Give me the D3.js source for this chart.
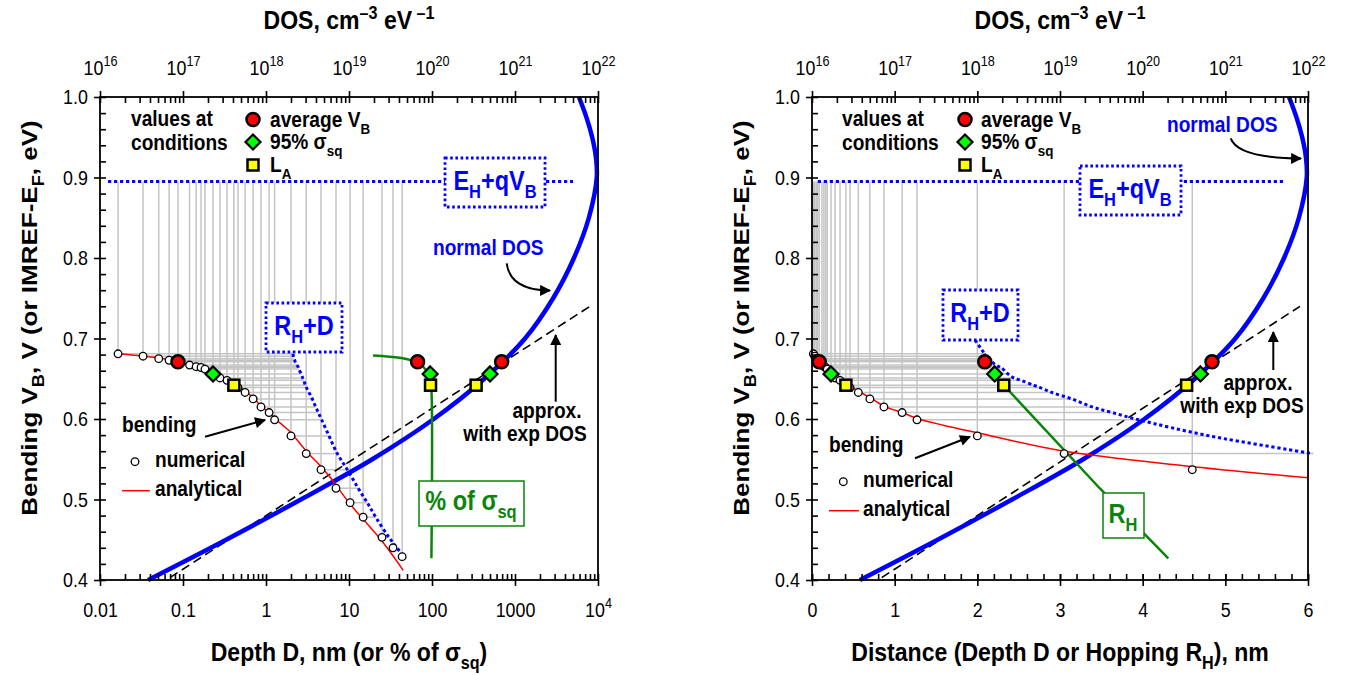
<!DOCTYPE html>
<html><head><meta charset="utf-8">
<script src="https://cdn.jsdelivr.net/npm/d3@7"></script>
<style>body{margin:0;background:#fff}svg{display:block}</style>
</head><body>
<svg id="c" width="1353" height="675"></svg>
<script>
// ---------------- DATA ----------------
// numerical band bending: depth D (nm) and V_B (V)
const numD = [0.0165,0.033,0.051,0.068,0.087,0.12,0.144,0.165,0.184,0.23,0.279,0.339,0.41,0.46,0.56,0.70,0.87,1.09,1.27,2.0,3.05,4.6,6.97,10.3,14.8,25,33.9,43.7];
const numV = [0.681,0.678,0.675,0.673,0.671,0.667,0.665,0.664,0.662,0.656,0.651,0.648,0.642,0.639,0.633,0.625,0.615,0.608,0.599,0.579,0.557,0.537,0.514,0.496,0.478,0.453,0.440,0.429];
// R_H + D (nm) at each numerical point, as read on each panel
const rhdLeft  = [2.13,2.13,2.17,2.22,2.25,2.36,2.43,2.45,2.48,2.66,2.77,2.85,2.98,3.07,3.30,3.61,3.97,4.27,4.69,5.74,7.23,9.55,12.9,16.6,21.0,30.3,37.8,46.0];
const rhdRight = [2.08,2.10,2.13,2.16,2.18,2.22,2.26,2.28,2.31,2.37,2.44,2.53,2.68,2.76,2.90,3.14,3.39,3.63,3.95,4.81,6.06];
// analytical bending
const anaD = [0.0165,0.05,0.087,0.23,0.44,0.57,0.71,0.89,1.09,1.29,1.6,2.0,3.0,4.5,6.0,10,26,45];
const anaV = [0.681,0.676,0.671,0.657,0.642,0.634,0.626,0.615,0.608,0.600,0.592,0.583,0.561,0.542,0.527,0.496,0.446,0.412];
// normal DOS, cm^-3 eV^-1, vs energy (eV)
const dosN = [3.8e16,3.31e17,2.63e18,1.91e19,1.05e20,4.27e20,1.32e21,2.88e21,5.13e21,7.76e21,9.66e21,9.44e21,8.51e21,7.24e21,5.89e21];
const dosV = [0.400,0.450,0.500,0.550,0.600,0.650,0.700,0.750,0.800,0.850,0.900,0.925,0.950,0.975,1.000];
// exponential DOS approximation
const expN = [6.97e16, 8.0e21];
const expV = [0.403, 0.740];
// values at conditions: average V_B, 95% sigma_sq, L_A
const condD   = [0.087, 0.23, 0.41];
const condV   = [0.671, 0.656, 0.642];
const condPct = [67, 95, 96];
const condDOS = [6.9e20, 5.0e20, 3.4e20];
const condRH  = [2.09, 2.21, 2.32];
// % of sigma_sq curve (left)
const sigPct = [19.5, 41, 59, 78, 94.6, 98.4, 98.4];
const sigV   = [0.679, 0.676, 0.672, 0.665, 0.652, 0.636, 0.427];
// hopping distance R_H line (right)
const rhR = [2.32, 3.48, 4.31];
const rhV = [0.642, 0.514, 0.427];
// E_H + qV_B level
const ehLevel = 0.895;
const ehSpanLeft = [0.0125, 5000];
const ehSpanRight = [0.07, 5.7];
// ticks
const xTicksLeft = [0.01,0.1,1,10,100,1000,10000];
const xTickLabelsLeft = ["0.01","0.1","1","10","100","1000","10^4"];
const xTicksRight = [0,1,2,3,4,5,6];
const dosTickExps = [16,17,18,19,20,21,22];
const yTicks = [0.4,0.5,0.6,0.7,0.8,0.9,1.0];

// ---------------- SETUP ----------------
const FONT = '"Liberation Sans", Arial, Helvetica, sans-serif';
const SX = 0.87;
const svg = d3.select("#c");
const defs = svg.append("defs");
defs.append("marker").attr("id","ah").attr("viewBox","0 0 10 10").attr("refX",9).attr("refY",5)
  .attr("markerWidth",13).attr("markerHeight",11).attr("markerUnits","userSpaceOnUse").attr("orient","auto")
  .append("path").attr("d","M0,0L10,5L0,10Z").attr("fill","#000");

const yS = d3.scaleLinear().domain([0.4,1.0]).range([580,97]);
const BLUE="#0000ff", GREEN="#0b840b", RED="#ff0000", GRAY="#c4c4c4";

function rich(g,x,y,parts,o){
  const fs=o.size;
  const tr = o.rotate ? `translate(${x},${y}) rotate(${o.rotate}) scale(1,${SX})` : `translate(${x},${y}) scale(${SX},1)`;
  const t=g.append("text").attr("transform",tr).attr("font-size",fs).attr("font-family",FONT)
    .attr("font-weight",o.bold?"bold":"normal").attr("fill",o.fill||"#000")
    .attr("text-anchor",o.anchor||"start").style("white-space","pre");
  let shift=0;
  parts.forEach(p=>{
    const s = typeof p==="string"?{t:p}:p;
    let target=0,size=fs;
    if(s.sub){target=fs*0.3;size=fs*0.7;}
    if(s.sup){target=-fs*0.36;size=fs*0.7;}
    t.append("tspan").attr("dy",target-shift).attr("font-size",size).text(s.t);
    shift=target;
  });
  return t;
}
function markers(g,xs,ys){
  const [cx0,cy0]=[xs[0],ys[0]];
  g.append("circle").attr("cx",cx0).attr("cy",cy0).attr("r",6.5).attr("fill",RED).attr("stroke","#000").attr("stroke-width",2.5);
  const [cx1,cy1]=[xs[1],ys[1]], h=7.5;
  g.append("path").attr("d",`M${cx1},${cy1-h}L${cx1+h},${cy1}L${cx1},${cy1+h}L${cx1-h},${cy1}Z`).attr("fill","#00ff00").attr("stroke","#000").attr("stroke-width",2.2);
  const [cx2,cy2]=[xs[2],ys[2]], s=5.5;
  g.append("rect").attr("x",cx2-s).attr("y",cy2-s).attr("width",2*s).attr("height",2*s).attr("fill","#ffff00").attr("stroke","#000").attr("stroke-width",2.5);
}
function box(g,x0,y0,x1,y1,color,dotted){
  const r=g.append("rect").attr("x",x0).attr("y",y0).attr("width",x1-x0).attr("height",y1-y0)
    .attr("fill","#fff").attr("stroke",color).attr("stroke-width",dotted?2.8:1.5);
  if(dotted) r.attr("stroke-dasharray","2.6,2.6");
}
function arrow(g,d){
  g.append("path").attr("d",d).attr("fill","none").attr("stroke","#000").attr("stroke-width",2).attr("marker-end","url(#ah)");
}
const lineGen=(xf,yf)=>d3.line().x(xf).y(yf).curve(d3.curveCatmullRom.alpha(0.5));

function styleAxis(g,size){
  g.select(".domain").remove();
  g.selectAll("line").attr("stroke","#000").attr("stroke-width",1.6);
  g.selectAll("text").attr("font-size",size).attr("font-family",FONT).attr("fill","#000").attr("transform",`scale(${SX},1)`);
}

function drawPanel(p){
  const g=svg.append("g");
  const xB=p.xB, xT=p.xT;
  const pts=numD.map((d,i)=>({d,v:numV[i],r:p.rhd[i]})).filter(o=>o.d<=p.dMax);

  // construction grid
  g.append("g").selectAll("line").data(pts).join("line")
    .attr("x1",o=>xB(o.d)).attr("x2",o=>xB(o.d)).attr("y1",o=>yS(o.v)).attr("y2",yS(ehLevel))
    .attr("stroke",GRAY).attr("stroke-width",1.5);
  g.append("g").selectAll("line").data(pts.filter(o=>o.r!=null)).join("line")
    .attr("x1",o=>xB(o.d)).attr("x2",o=>xB(o.r)).attr("y1",o=>yS(o.v)).attr("y2",o=>yS(o.v))
    .attr("stroke",GRAY).attr("stroke-width",1.5);

  // E_H + qV_B level
  g.append("line").attr("x1",xB(p.ehSpan[0])).attr("x2",xB(p.ehSpan[1])).attr("y1",yS(ehLevel)).attr("y2",yS(ehLevel))
    .attr("stroke",BLUE).attr("stroke-width",3).attr("stroke-dasharray","3.2,2.8");

  // exp DOS approximation
  g.append("path").datum(expN.map((n,i)=>({n,v:expV[i]})))
    .attr("d",d3.line().x(o=>xT(o.n)).y(o=>yS(o.v))).attr("fill","none")
    .attr("stroke","#000").attr("stroke-width",1.6).attr("stroke-dasharray","9,5");
  // normal DOS
  g.append("path").datum(dosN.map((n,i)=>({n,v:dosV[i]})))
    .attr("d",lineGen(o=>xT(o.n),o=>yS(o.v))).attr("fill","none")
    .attr("stroke",BLUE).attr("stroke-width",4.5);
  // analytical bending
  g.append("path").datum(anaD.map((d,i)=>({d,v:anaV[i]})).filter(o=>o.d<=p.dMax))
    .attr("d",lineGen(o=>xB(o.d),o=>yS(o.v))).attr("fill","none")
    .attr("stroke",RED).attr("stroke-width",1.5);
  // R_H + D
  g.append("path").datum(pts.filter(o=>o.r!=null))
    .attr("d",lineGen(o=>xB(o.r),o=>yS(o.v))).attr("fill","none")
    .attr("stroke",BLUE).attr("stroke-width",3).attr("stroke-dasharray","3.2,2.8");

  p.extra(g,xB,xT);

  // numerical points
  g.append("g").selectAll("circle").data(pts).join("circle")
    .attr("cx",o=>xB(o.d)).attr("cy",o=>yS(o.v)).attr("r",3.8)
    .attr("fill","#fff").attr("stroke","#000").attr("stroke-width",1.3);
  // condition markers on bending
  markers(g,condD.map(xB),condV.map(yS));
  // condition markers on DOS
  markers(g,condDOS.map(xT),condV.map(yS));

  p.annot(g);

  // frame
  g.append("rect").attr("x",p.x0).attr("y",97).attr("width",p.x1-p.x0).attr("height",483)
    .attr("fill","none").attr("stroke","#000").attr("stroke-width",1.8);

  // axes
  const yMinor=d3.range(0.4,1.0001,0.02);
  g.append("g").attr("transform",`translate(${p.x0},0)`)
    .call(d3.axisLeft(yS).tickValues(yTicks).tickSize(6).tickPadding(8).tickFormat(d3.format(".1f")))
    .call(a=>styleAxis(a,20.5));
  g.append("g").attr("transform",`translate(${p.x0},0)`)
    .call(d3.axisRight(yS).tickValues(yMinor).tickSize(6).tickFormat(""))
    .call(a=>styleAxis(a,20.5));
  g.append("g").attr("transform","translate(0,580)")
    .call(d3.axisBottom(xB).tickValues(p.xMajor).tickSize(6).tickPadding(16).tickFormat((d,i)=>p.xLabels[i]))
    .call(a=>styleAxis(a,20.5))
    .call(a=>a.selectAll(".tick text").each(function(){
      const t=d3.select(this), s=t.text();
      if(s.includes("^")){const [b,e]=s.split("^"); t.text(b); t.append("tspan").attr("dy",-9).attr("font-size",14.5).text(e);}
    }));
  g.append("g").attr("transform","translate(0,580)")
    .call(d3.axisTop(xB).tickValues(p.xMajor.concat(p.xMinor)).tickSize(6).tickFormat(""))
    .call(a=>styleAxis(a,20.5));
  const dosMajor=dosTickExps.map(e=>Math.pow(10,e));
  const dosMinor=[]; dosTickExps.slice(0,-1).forEach(e=>{for(let k=2;k<10;k++) dosMinor.push(k*Math.pow(10,e));});
  g.append("g").attr("transform","translate(0,97)")
    .call(d3.axisTop(xT).tickValues(dosMajor).tickSize(6).tickPadding(16).tickFormat(""))
    .call(a=>styleAxis(a,20.5))
    .call(a=>a.selectAll(".tick text").each(function(d,i){
      const t=d3.select(this); t.text("10");
      t.append("tspan").attr("dy",-9).attr("font-size",14.5).text(dosTickExps[i]);
    }));
  g.append("g").attr("transform","translate(0,97)")
    .call(d3.axisBottom(xT).tickValues(dosMajor.concat(dosMinor)).tickSize(6).tickFormat(""))
    .call(a=>styleAxis(a,20.5));

  // titles
  const cx=(p.x0+p.x1)/2;
  rich(g,cx,29,["DOS, cm",{t:"–3",sup:true}," eV",{t:" –1",sup:true}],{size:26.5,bold:true,anchor:"middle"});
  rich(g,cx,661,p.xTitle,{size:26.5,bold:true,anchor:"middle"});
  rich(g,p.x0-63,318,["Bending V",{t:"B",sub:true},", V (or IMREF-E",{t:"F",sub:true},", eV)"],{size:26,bold:true,anchor:"middle",rotate:-90});
}

function legend(g,xa,xm,xt){
  rich(g,xa,126,["values at"],{size:22,bold:true});
  rich(g,xa,150,["conditions"],{size:22,bold:true});
  markers(g,[xm,xm,xm],[119.5,142,165]);
  rich(g,xt,127,["average V",{t:"B",sub:true}],{size:22,bold:true});
  rich(g,xt,149,["95% σ",{t:"sq",sub:true}],{size:22,bold:true});
  rich(g,xt,172,["L",{t:"A",sub:true}],{size:22,bold:true});
}

// ---------------- LEFT PANEL ----------------
const minorLog=[]; for(let e=-2;e<4;e++) for(let k=2;k<10;k++) minorLog.push(k*Math.pow(10,e));
drawPanel({
  x0:100,x1:598,dMax:1e9,
  xB:d3.scaleLog().domain([0.01,1e4]).range([100,598]),
  xT:d3.scaleLog().domain([1e16,1e22]).range([100,598]),
  rhd:rhdLeft, ehSpan:ehSpanLeft,
  xMajor:xTicksLeft, xLabels:xTickLabelsLeft, xMinor:minorLog,
  xTitle:["Depth D, nm (or % of σ",{t:"sq",sub:true},")"],
  extra:(g,xB,xT)=>{
    g.append("path").datum(sigPct.map((d,i)=>({d,v:sigV[i]})))
      .attr("d",lineGen(o=>xB(o.d),o=>yS(o.v))).attr("fill","none")
      .attr("stroke",GREEN).attr("stroke-width",2.5);
    markers(g,condPct.map(xB),condV.map(yS));
  },
  annot:(g)=>{
    legend(g,131,253,270);
    box(g,445,158,545,207,BLUE,true);
    rich(g,495,190,["E",{t:"H",sub:true},"+qV",{t:"B",sub:true}],{size:27,bold:true,fill:BLUE,anchor:"middle"});
    box(g,266,303,342,352,BLUE,true);
    rich(g,304,335,["R",{t:"H",sub:true},"+D"],{size:27,bold:true,fill:BLUE,anchor:"middle"});
    box(g,419,481,524,526,GREEN,false);
    rich(g,471,510,["% of σ",{t:"sq",sub:true}],{size:27,bold:true,fill:GREEN,anchor:"middle"});
    rich(g,433,255,["normal DOS"],{size:22,bold:true,fill:BLUE});
    arrow(g,"M506.7,263.3 Q510,290 550,290.5");
    rich(g,547,418,["approx."],{size:22,bold:true,anchor:"middle"});
    rich(g,525,441,["with exp DOS"],{size:22,bold:true,anchor:"middle"});
    arrow(g,"M555.7,401.7 L555.7,335");
    rich(g,122,432,["bending"],{size:22,bold:true});
    arrow(g,"M205,436.7 L265,420");
    g.append("circle").attr("cx",135).attr("cy",461.7).attr("r",3.8).attr("fill","#fff").attr("stroke","#000").attr("stroke-width",1.3);
    rich(g,155,467,["numerical"],{size:22,bold:true});
    g.append("line").attr("x1",122).attr("x2",150).attr("y1",490.7).attr("y2",490.7).attr("stroke",RED).attr("stroke-width",1.5);
    rich(g,155,496,["analytical"],{size:22,bold:true});
  }
});

// ---------------- RIGHT PANEL ----------------
drawPanel({
  x0:812,x1:1308,dMax:6.05,
  xB:d3.scaleLinear().domain([0,6]).range([812,1308]),
  xT:d3.scaleLog().domain([1e16,1e22]).range([812,1308]),
  rhd:rhdRight, ehSpan:ehSpanRight,
  xMajor:xTicksRight, xLabels:xTicksRight.map(String), xMinor:d3.range(0,6.0001,0.2),
  xTitle:["Distance (Depth D or Hopping R",{t:"H",sub:true},"), nm"],
  extra:(g,xB,xT)=>{
    g.append("path").datum(rhR.map((d,i)=>({d,v:rhV[i]})))
      .attr("d",d3.line().x(o=>xB(o.d)).y(o=>yS(o.v))).attr("fill","none")
      .attr("stroke",GREEN).attr("stroke-width",2.5);
    markers(g,condRH.map(xB),condV.map(yS));
  },
  annot:(g)=>{
    legend(g,842,965,981);
    box(g,1080,166,1181,215,BLUE,true);
    rich(g,1130,198,["E",{t:"H",sub:true},"+qV",{t:"B",sub:true}],{size:27,bold:true,fill:BLUE,anchor:"middle"});
    g.append("line").attr("x1",975).attr("y1",340).attr("x2",984).attr("y2",353).attr("stroke",BLUE).attr("stroke-width",3).attr("stroke-dasharray","3.2,2.8");
    box(g,943,290,1018,340,BLUE,true);
    rich(g,980,322,["R",{t:"H",sub:true},"+D"],{size:27,bold:true,fill:BLUE,anchor:"middle"});
    box(g,1103,493,1144,538,GREEN,false);
    rich(g,1123,523,["R",{t:"H",sub:true}],{size:27,bold:true,fill:GREEN,anchor:"middle"});
    rich(g,1167,131.7,["normal DOS"],{size:22,bold:true,fill:BLUE});
    arrow(g,"M1230.7,138.3 Q1238,158 1301,158.5");
    rich(g,1258,390,["approx."],{size:22,bold:true,anchor:"middle"});
    rich(g,1242,413,["with exp DOS"],{size:22,bold:true,anchor:"middle"});
    arrow(g,"M1273.3,370 L1273.3,332");
    rich(g,829,452,["bending"],{size:22,bold:true});
    arrow(g,"M915,458.3 L970,436.7");
    g.append("circle").attr("cx",843.3).attr("cy",481.7).attr("r",3.8).attr("fill","#fff").attr("stroke","#000").attr("stroke-width",1.3);
    rich(g,863,487,["numerical"],{size:22,bold:true});
    g.append("line").attr("x1",829).attr("x2",859).attr("y1",510.7).attr("y2",510.7).attr("stroke",RED).attr("stroke-width",1.5);
    rich(g,863,516,["analytical"],{size:22,bold:true});
  }
});
</script>
</body></html>
